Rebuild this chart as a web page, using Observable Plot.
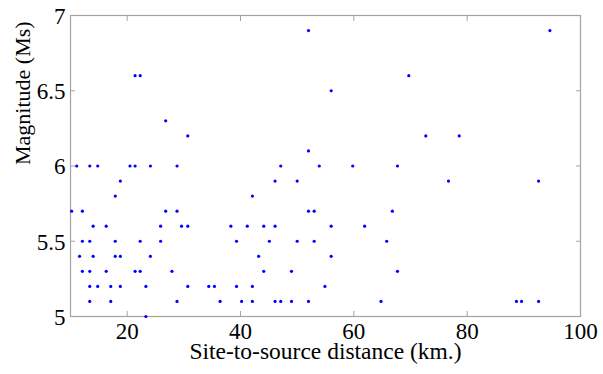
<!DOCTYPE html>
<html>
<head>
<meta charset="utf-8">
<script src="https://cdn.jsdelivr.net/npm/d3@7"></script>
<script src="https://cdn.jsdelivr.net/npm/@observablehq/plot@0.6"></script>
<style>
  html, body { margin: 0; padding: 0; background: #fff; }
</style>
</head>
<body>
<div id="chart"></div>
<script>
// Earthquake records: site-to-source distance (km) and surface-wave magnitude (Ms)
const distance = [
  52.0, 94.6,
  21.4, 22.3, 69.7,
  56.0,
  26.8,
  30.7, 72.7, 78.6,
  52.0,
  11.1, 13.4, 14.8, 20.5, 21.4, 24.1, 28.8, 47.1, 53.9, 59.8, 67.7,
  18.8, 46.1, 50.0, 76.7, 92.6,
  17.9, 42.1,
  10.2, 12.1, 26.8, 28.8, 52.0, 53.0, 66.8,
  14.0, 16.3, 25.9, 29.6, 30.7, 38.3, 41.2, 44.1, 46.1, 56.0, 61.9,
  12.1, 13.4, 17.9, 22.3, 25.9, 39.3, 45.1, 50.0, 53.0, 65.8,
  11.6, 14.0, 17.9, 18.8, 24.1, 43.2, 56.0,
  12.1, 13.4, 16.3, 21.4, 22.3, 27.9, 44.1, 49.0, 67.7,
  13.4, 14.8, 17.1, 18.8, 23.3, 30.7, 34.4, 35.4, 39.3, 42.1, 54.9,
  13.4, 17.1, 28.8, 36.4, 40.2, 42.1, 46.1, 47.1, 49.0, 52.0, 64.8, 88.7, 89.6, 92.6,
  23.3
];
const magnitude = [
  6.9, 6.9,
  6.6, 6.6, 6.6,
  6.5,
  6.3,
  6.2, 6.2, 6.2,
  6.1,
  6.0, 6.0, 6.0, 6.0, 6.0, 6.0, 6.0, 6.0, 6.0, 6.0, 6.0,
  5.9, 5.9, 5.9, 5.9, 5.9,
  5.8, 5.8,
  5.7, 5.7, 5.7, 5.7, 5.7, 5.7, 5.7,
  5.6, 5.6, 5.6, 5.6, 5.6, 5.6, 5.6, 5.6, 5.6, 5.6, 5.6,
  5.5, 5.5, 5.5, 5.5, 5.5, 5.5, 5.5, 5.5, 5.5, 5.5,
  5.4, 5.4, 5.4, 5.4, 5.4, 5.4, 5.4,
  5.3, 5.3, 5.3, 5.3, 5.3, 5.3, 5.3, 5.3, 5.3,
  5.2, 5.2, 5.2, 5.2, 5.2, 5.2, 5.2, 5.2, 5.2, 5.2, 5.2,
  5.1, 5.1, 5.1, 5.1, 5.1, 5.1, 5.1, 5.1, 5.1, 5.1, 5.1, 5.1, 5.1, 5.1,
  5.0
];

const xTicks = [20, 40, 60, 80, 100];
const yTicks = [5, 5.5, 6, 6.5, 7];
const xTitle = ["Site-to-source distance (km.)"];
const yTitle = ["Magnitude (Ms)"];

const records = distance.map((d, i) => ({distance: d, magnitude: magnitude[i]}));

const boxColor = "#a3a3a3";
const noLabel = () => "";

const chart = Plot.plot({
  width: 603,
  height: 374,
  marginLeft: 70,
  marginRight: 23,
  marginTop: 15,
  marginBottom: 58,
  style: {
    fontFamily: "'Liberation Serif', 'Times New Roman', serif",
    fontSize: "23px",
    color: "#000",
    background: "#fff"
  },
  x: {domain: [10, 100], label: null},
  y: {domain: [5, 7], label: null},
  marks: [
    Plot.frame({stroke: boxColor, strokeWidth: 1.2}),
    // inward tick marks on all four sides
    Plot.axisX(xTicks, {anchor: "bottom", tickSize: -5, tickFormat: noLabel, stroke: boxColor, label: null}),
    Plot.axisX(xTicks, {anchor: "top", tickSize: -5, tickFormat: noLabel, stroke: boxColor, label: null}),
    Plot.axisY(yTicks, {anchor: "left", tickSize: -5, tickFormat: noLabel, stroke: boxColor, label: null}),
    Plot.axisY(yTicks, {anchor: "right", tickSize: -5, tickFormat: noLabel, stroke: boxColor, label: null}),
    // tick labels
    Plot.axisX(xTicks, {anchor: "bottom", tickSize: 0, tickPadding: 6, fontSize: 23, label: null, tickFormat: d3.format("d")}),
    Plot.axisY(yTicks, {anchor: "left", tickSize: 0, tickPadding: 5, dy: 1, fontSize: 23, label: null, tickFormat: d => String(d)}),
    // axis titles
    Plot.text(xTitle, {frameAnchor: "bottom", lineAnchor: "middle", dy: 35, fontSize: 23.5, fill: "#000"}),
    Plot.text(yTitle, {frameAnchor: "left", lineAnchor: "middle", rotate: -90, dx: -48, dy: -1, fontSize: 22, fill: "#000"}),
    Plot.dot(records, {x: "distance", y: "magnitude", r: 1.6, fill: "#0000ff", stroke: "none"})
  ]
});

document.getElementById("chart").appendChild(chart);
</script>
</body>
</html>
